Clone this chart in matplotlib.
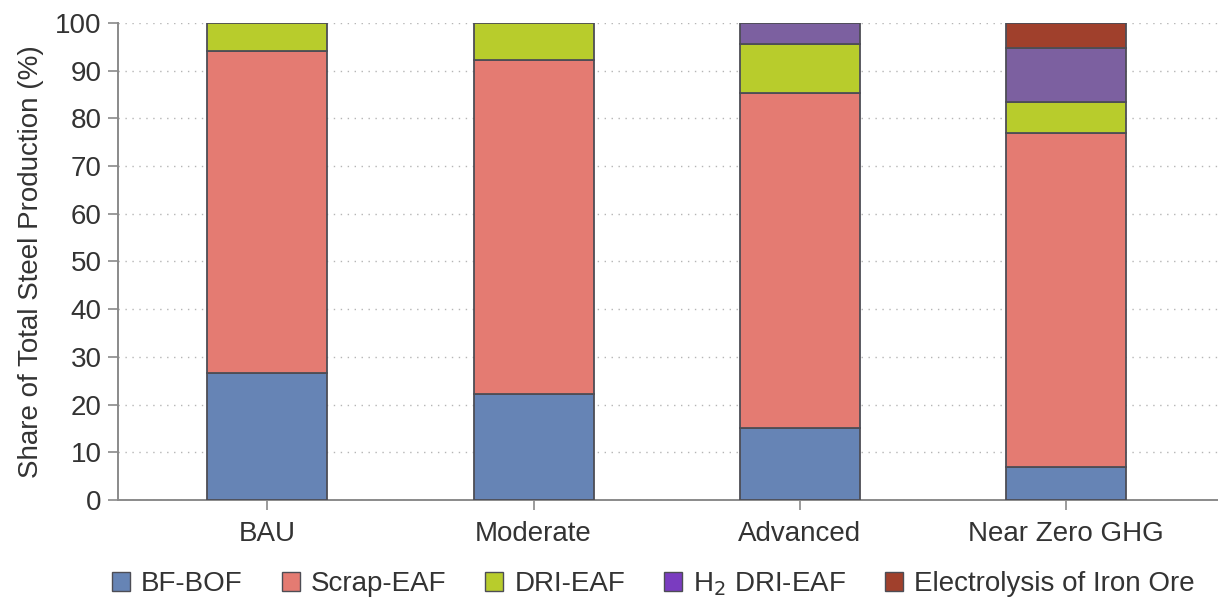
import numpy as np
import matplotlib
matplotlib.use("Agg")
import matplotlib.pyplot as plt
from matplotlib.patches import Patch

plt.rcParams['font.family'] = ['Liberation Sans', 'DejaVu Sans']

## Data
scenarios = ["BAU", "Moderate", "Advanced", "Near Zero GHG"]
routes = ["BF-BOF", "Scrap-EAF", "DRI-EAF", "H$_2$ DRI-EAF", "Electrolysis of Iron Ore"]
bf_bof = [26.7, 22.3, 15.2, 7.0]
scrap_eaf = [67.3, 69.8, 70.0, 70.0]
dri_eaf = [6.0, 7.9, 10.4, 6.4]
h2_dri_eaf = [0.0, 0.0, 4.4, 11.4]
electrolysis = [0.0, 0.0, 0.0, 5.2]
y_ticks = list(range(0, 101, 10))

bar_colors = ["#6684b5", "#e47b72", "#b8cc2c", "#7c60a0", "#a0402c"]
legend_colors = ["#6684b5", "#e47b72", "#b8cc2c", "#7a3cc0", "#a0402c"]
edge = "#4d4d55"
grey = "#8a8a8a"
txt = "#333333"
fs = 20

fig = plt.figure(figsize=(12.18, 5.99), dpi=100)
ax = fig.add_axes([0.097, 0.165, 0.903, 0.797])

x = np.arange(len(scenarios))
bottom = np.zeros(len(scenarios))
for vals, c in zip([bf_bof, scrap_eaf, dri_eaf, h2_dri_eaf, electrolysis], bar_colors):
    vals = np.array(vals)
    mask = vals > 0
    ax.bar(x[mask], vals[mask], 0.45, bottom=bottom[mask], color=c,
           edgecolor=edge, linewidth=1.3, zorder=3)
    bottom += vals

ax.set_xlim(-0.56, 3.57)
ax.set_ylim(0, 100)
ax.set_yticks(y_ticks)
ax.set_xticks(x)
ax.set_xticklabels(scenarios)
ax.tick_params(axis='both', colors=grey, labelcolor=txt, labelsize=fs, length=7, width=1.2)
ax.tick_params(axis='x', pad=8)
ax.tick_params(axis='y', pad=5)
ax.set_ylabel("Share of Total Steel Production (%)", fontsize=fs, color=txt, labelpad=8)

ax.grid(axis='y', linestyle=(0, (1, 4)), color="#b5b5b5", linewidth=1.0, zorder=0)
for s in ['top', 'right']:
    ax.spines[s].set_visible(False)
for s in ['left', 'bottom']:
    ax.spines[s].set_color(grey)
    ax.spines[s].set_linewidth(1.4)

handles = [Patch(facecolor=c, edgecolor=edge, linewidth=1.0) for c in legend_colors]
fig.legend(handles, routes, loc='lower center', bbox_to_anchor=(0.5365, -0.04), ncol=5,
           frameon=False, fontsize=fs, handlelength=0.65, handleheight=0.65,
           handletextpad=0.4, columnspacing=1.4, labelcolor=txt)

fig.savefig("out.png", dpi=100)
